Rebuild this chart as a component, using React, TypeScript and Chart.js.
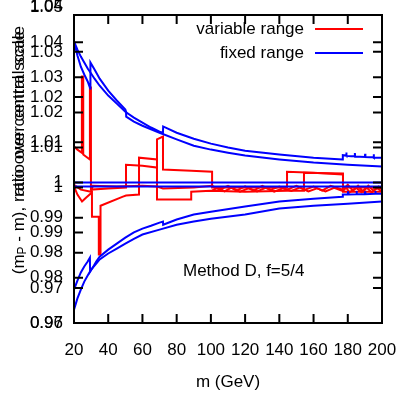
import React, { useEffect, useRef } from "react";
import { Chart, registerables } from "chart.js";

Chart.register(...registerables);

// ---------- axes ----------
const X_MIN = 20;
const X_MAX = 200;
const X_STEP = 20;
const Y_MIN = 0.96;
const Y_MAX = 1.04775;

// first overlaid plot: tick values / labels
const Y_A_VALUES = [0.96, 0.97, 0.98, 0.99, 1.0, 1.01, 1.02, 1.03, 1.04, 1.05];
const Y_A_LABELS = ["0.96", "0.97", "0.98", "0.99", "1", "1.01", "1.02", "1.03", "1.04", "1.05"];
// second overlaid plot (its own, stretched y scale) : tick values / labels
const Y_B_VALUES = [0.97, 0.98, 0.99, 1.0, 1.01, 1.02, 1.03, 1.04];
const Y_B_LABELS = ["0.97", "0.98", "0.99", "1", "1.01", "1.02", "1.03", "1.04"];
const Y_B_ORIGIN = 0.97; // value of second scale at the bottom of the frame
const Y_B_STRETCH = 1.2877; // first-scale units per second-scale unit

// ---------- data : fixed range (blue) ----------
const FIX_UP1_M = [20, 22, 24, 26, 28, 30, 32, 35, 40, 45, 50, 55, 60, 65, 70, 72, 72.1, 80, 90, 100, 110, 120, 140, 160, 177, 177.1, 179, 179.15, 179.3, 182, 184, 184.15, 184.3, 187, 190, 190.15, 190.3, 193, 195, 195.15, 195.3, 200];
const FIX_UP1_V = [1.0402, 1.0379, 1.0359, 1.0342, 1.0325, 1.0311, 1.0296, 1.0276, 1.0248, 1.0225, 1.0202, 1.0185, 1.0171, 1.0157, 1.0145, 1.0142, 1.016, 1.0142, 1.0125, 1.0111, 1.01, 1.0091, 1.008, 1.0071, 1.0066, 1.0078, 1.0077, 1.0086, 1.0076, 1.0075, 1.0075, 1.0084, 1.0074, 1.0074, 1.0073, 1.0082, 1.0073, 1.0072, 1.0072, 1.0081, 1.0071, 1.0071];

const FIX_UP2_M = [20, 22, 24, 26, 28, 29.5, 29.6, 32, 35, 40, 45, 50, 50.4, 50.5, 55, 60, 70, 80, 90, 100, 110, 120, 140, 160, 180, 200];
const FIX_UP2_V = [1.0402, 1.0362, 1.033, 1.0308, 1.0288, 1.0268, 1.0342, 1.0322, 1.0296, 1.0262, 1.0234, 1.0208, 1.0202, 1.0188, 1.0174, 1.0162, 1.0142, 1.0123, 1.0105, 1.0094, 1.0085, 1.0077, 1.0066, 1.0057, 1.0051, 1.0046];

const FIX_LO1_M = [20, 22, 24, 26, 28, 29.3, 29.4, 31, 33, 35, 40, 45, 50, 55, 60, 65, 70, 72, 72.1, 80, 90, 100, 120, 140, 160, 177, 177.1, 180, 180.15, 180.3, 185, 185.15, 185.3, 190, 190.15, 190.3, 196, 196.15, 196.3, 200];
const FIX_LO1_V = [0.9695, 0.9721, 0.9744, 0.9761, 0.9775, 0.9786, 0.9746, 0.9758, 0.9775, 0.9789, 0.9809, 0.9826, 0.9843, 0.9858, 0.9869, 0.9877, 0.9886, 0.9889, 0.988, 0.9895, 0.9909, 0.9917, 0.9932, 0.9946, 0.9954, 0.996, 0.9966, 0.9966, 0.9975, 0.9966, 0.9967, 0.9976, 0.9967, 0.9967, 0.9975, 0.9967, 0.9968, 0.9976, 0.9968, 0.9968];

const FIX_LO2_M = [20, 22, 24, 26, 28, 30, 33, 35, 40, 45, 50, 55, 60, 70, 80, 90, 100, 120, 140, 160, 180, 200];
const FIX_LO2_V = [0.9638, 0.967, 0.9695, 0.9718, 0.9735, 0.9752, 0.9769, 0.9781, 0.9798, 0.9812, 0.9826, 0.984, 0.9852, 0.9866, 0.988, 0.9889, 0.9897, 0.9909, 0.9926, 0.9934, 0.994, 0.9946];

const FIX_CENTRAL_M = [20, 200];
const FIX_CENTRAL_A_V = [1.0, 1.0];
const FIX_CENTRAL_B_V = [0.9989, 0.9989];

// ---------- data : variable range (red) ----------
const VAR_UP_M = [20, 22, 24.6, 24.6, 25.4, 25.4, 29.3, 29.3, 29.9, 29.9, 40, 50.4, 50.4, 60, 68.5, 68.5, 72, 72, 88.5, 100.7, 100.7, 144.5, 144.5, 160, 177.2, 177.2, 200];
const VAR_UP_V = [1.0103, 1.0094, 1.0085, 1.0302, 1.0302, 1.008, 1.0066, 1.0271, 1.0271, 0.998, 0.9983, 0.9986, 1.0051, 1.0048, 1.0043, 1.0123, 1.0131, 1.0037, 1.0034, 1.0031, 0.9986, 0.9986, 1.0031, 1.0028, 1.0023, 0.9986, 0.9986];

const VAR_LO_M = [20, 22, 24.7, 27, 30.5, 30.5, 34.5, 34.5, 35.5, 35.5, 48.6, 50.4, 58, 58, 68.5, 68.5, 88.5, 88.5, 100, 120, 144.5, 154.4, 154.4, 177.2, 177.2, 200];
const VAR_LO_V = [0.9989, 0.9966, 0.9946, 0.9957, 0.9972, 0.9903, 0.9903, 0.9795, 0.9795, 0.9934, 0.996, 0.9963, 0.9966, 1.0071, 1.0066, 0.9952, 0.9952, 0.9974, 0.9977, 0.9974, 0.9977, 0.9977, 1.0028, 1.0026, 0.9974, 0.9974];

const VAR_MID_M = [20, 24, 30, 31, 45, 60, 68.5, 72, 90, 100.7, 105, 110, 115, 120, 125, 130, 135, 140, 144.5, 150, 155, 160, 165, 170, 177.2, 180, 183, 186, 189, 192, 195, 198, 200];
const VAR_MID_V = [0.9994, 0.998, 0.9974, 0.9991, 0.9989, 0.9991, 0.9989, 0.9983, 0.9986, 0.9991, 0.998, 0.9991, 0.9977, 0.9989, 0.9977, 0.9991, 0.998, 0.9989, 0.998, 0.9991, 0.998, 0.9989, 0.9977, 0.9991, 0.998, 0.9994, 0.9977, 0.9991, 0.9974, 0.9991, 0.9977, 0.9989, 0.998];

const VAR_MID2_M = [100.7, 104, 108, 112, 117, 122, 127, 132, 137, 142, 147, 152, 157, 162, 167, 172, 177.2, 179, 181, 185, 188, 191, 194, 197, 200];
const VAR_MID2_V = [0.9977, 0.9986, 0.9975, 0.9986, 0.9974, 0.9984, 0.9975, 0.9985, 0.9974, 0.9984, 0.9976, 0.9986, 0.9975, 0.9984, 0.9975, 0.9985, 0.9976, 0.9986, 0.9972, 0.9985, 0.9973, 0.9986, 0.9972, 0.9984, 0.9975];

// ---------- text ----------
const LEGEND_LABELS = ["variable range", "fixed range"];
const RED = "#ff0000";
const BLUE = "#0000ff";
const ANNOTATION = "Method D, f=5/4";
const X_TITLE = "m (GeV)";
const Y_TITLE_1 = ["(m", "P", " - m), ratio over central scale"];
const Y_TITLE_2 = "ratio over central scale";
const FONT = "'Liberation Sans', Arial, Helvetica, sans-serif";
const FS = 17;

const zip = (m: number[], v: number[]) => m.map((x, i) => ({ x, y: v[i] }));

const yTickValues = [
  ...Y_A_VALUES,
  ...Y_B_VALUES.map((b) => Y_MIN + (b - Y_B_ORIGIN) * Y_B_STRETCH),
];
const yTickLabels = [...Y_A_LABELS, ...Y_B_LABELS];

const line = (data: { x: number; y: number }[], color: string) => ({
  data,
  borderColor: color,
  backgroundColor: color,
  borderWidth: 2,
  pointRadius: 0,
  fill: false,
  tension: 0,
});

const decorPlugin = {
  id: "decor",
  afterDatasetsDraw(chart: any) {
    const { ctx, chartArea: a, scales } = chart;
    const xs = scales.x;
    const ys = scales.y;
    ctx.save();
    ctx.strokeStyle = "#000";
    ctx.lineWidth = 2;
    ctx.beginPath();
    xs.ticks.forEach((t: any) => {
      const px = xs.getPixelForValue(t.value);
      ctx.moveTo(px, a.bottom);
      ctx.lineTo(px, a.bottom - 9);
      ctx.moveTo(px, a.top);
      ctx.lineTo(px, a.top + 9);
    });
    ys.ticks.forEach((t: any) => {
      const py = ys.getPixelForValue(t.value);
      if (py < a.top + 1 || py > a.bottom - 1) return;
      ctx.moveTo(a.left, py);
      ctx.lineTo(a.left + 9, py);
      ctx.moveTo(a.right, py);
      ctx.lineTo(a.right - 9, py);
    });
    ctx.stroke();
    ctx.lineWidth = 2;
    ctx.strokeRect(a.left, a.top, a.right - a.left, a.bottom - a.top);

    // legend
    ctx.font = `${FS}px ${FONT}`;
    ctx.fillStyle = "#000";
    ctx.textAlign = "right";
    ctx.textBaseline = "middle";
    const cols = [RED, BLUE];
    LEGEND_LABELS.forEach((lab, i) => {
      const yy = a.top + 14 + i * 24;
      ctx.fillText(lab, a.right - 78, yy);
      ctx.strokeStyle = cols[i];
      ctx.lineWidth = 2;
      ctx.beginPath();
      ctx.moveTo(a.right - 67, yy);
      ctx.lineTo(a.right - 19, yy);
      ctx.stroke();
    });

    // annotation
    ctx.textAlign = "left";
    ctx.fillStyle = "#000";
    ctx.fillText(ANNOTATION, a.left + 109, a.top + 256);

    // y titles (two overlaid plots)
    ctx.save();
    ctx.translate(19, a.top + 16);
    ctx.rotate(-Math.PI / 2);
    ctx.textBaseline = "middle";
    ctx.font = `${FS}px ${FONT}`;
    const w1 = ctx.measureText(Y_TITLE_1[0]).width;
    const w3 = ctx.measureText(Y_TITLE_1[2]).width;
    ctx.font = `12px ${FONT}`;
    const w2 = ctx.measureText(Y_TITLE_1[1]).width;
    let cx = -(w1 + w2 + w3);
    ctx.textAlign = "left";
    ctx.font = `${FS}px ${FONT}`;
    ctx.fillText(Y_TITLE_1[0], cx, 0);
    cx += w1;
    ctx.font = `12px ${FONT}`;
    ctx.fillText(Y_TITLE_1[1], cx, 4);
    cx += w2;
    ctx.font = `${FS}px ${FONT}`;
    ctx.fillText(Y_TITLE_1[2], cx, 0);
    ctx.textAlign = "right";
    ctx.fillText(Y_TITLE_2, 5, 0);
    ctx.restore();

    ctx.restore();
  },
};

export default function App() {
  const ref = useRef<HTMLCanvasElement>(null);
  useEffect(() => {
    Chart.defaults.font.family = FONT;
    const chart = new Chart(ref.current as HTMLCanvasElement, {
      type: "line",
      data: {
        datasets: [
          line(zip(FIX_CENTRAL_M, FIX_CENTRAL_A_V), BLUE),
          line(zip(FIX_CENTRAL_M, FIX_CENTRAL_B_V), BLUE),
          line(zip(FIX_UP1_M, FIX_UP1_V), BLUE),
          line(zip(FIX_UP2_M, FIX_UP2_V), BLUE),
          line(zip(FIX_LO1_M, FIX_LO1_V), BLUE),
          line(zip(FIX_LO2_M, FIX_LO2_V), BLUE),
          line(zip(VAR_UP_M, VAR_UP_V), RED),
          line(zip(VAR_LO_M, VAR_LO_V), RED),
          line(zip(VAR_MID_M, VAR_MID_V), RED),
          line(zip(VAR_MID2_M, VAR_MID2_V), RED),
        ] as any,
      },
      options: {
        animation: false,
        responsive: false,
        maintainAspectRatio: false,
        layout: { padding: { left: 0, top: 15, right: 17, bottom: 0 } },
        plugins: { legend: { display: false }, tooltip: { enabled: false } },
        scales: {
          x: {
            type: "linear",
            min: X_MIN,
            max: X_MAX,
            grid: { display: false, drawTicks: false },
            border: { display: false },
            ticks: { stepSize: X_STEP, color: "#000", font: { size: FS }, padding: 17, maxRotation: 0, autoSkip: false },
            title: { display: true, text: X_TITLE, color: "#000", font: { size: FS }, padding: { top: 0, bottom: 4 } },
            afterFit: (s: any) => {
              s.height = 74;
              s.paddingLeft = 0;
              s.paddingRight = 0;
            },
          },
          y: {
            type: "linear",
            min: Y_MIN,
            max: Y_MAX,
            grid: { display: false, drawTicks: false },
            border: { display: false },
            afterBuildTicks: (s: any) => {
              s.ticks = yTickValues.map((v) => ({ value: v }));
            },
            ticks: {
              autoSkip: false,
              color: "#000",
              font: { size: FS },
              padding: 11,
              callback: (_v: any, i: number) => yTickLabels[i],
            },
            afterFit: (s: any) => {
              s.width = 74;
              s.paddingTop = 0;
              s.paddingBottom = 0;
            },
          },
        },
      },
      plugins: [decorPlugin],
    } as any);
    return () => chart.destroy();
  }, []);
  return (
    <div style={{ position: "fixed", left: 0, top: 0, width: 399, height: 397, background: "#fff" }}>
      <canvas ref={ref} width={399} height={397} style={{ display: "block" }} />
    </div>
  );
}
